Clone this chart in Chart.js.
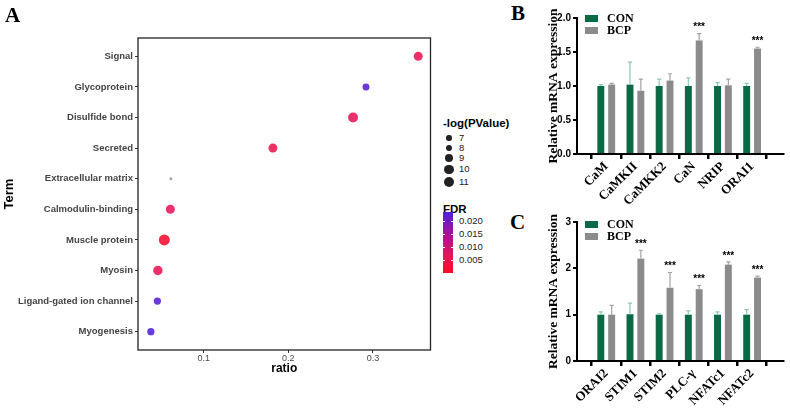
<!DOCTYPE html>
<html>
<head>
<meta charset="utf-8">
<script src="https://cdn.jsdelivr.net/npm/chart.js@4.4.1/dist/chart.umd.min.js"></script>
<style>
body{margin:0;width:790px;height:409px;background:#fff;position:relative;overflow:hidden;font-family:"Liberation Sans",Arial,sans-serif}
.box{position:absolute}
.t{position:absolute;white-space:nowrap}
.serif{font-family:"Liberation Serif","Times New Roman",serif;font-weight:bold;color:#000}
.panel{font-size:21px;line-height:21px}
</style>
</head>
<body>
<div class="box" style="left:0;top:0;width:436px;height:409px"><canvas id="chartA"></canvas></div>
<div class="box" style="left:530px;top:0;width:258px;height:205px"><canvas id="chartB"></canvas></div>
<div class="box" style="left:530px;top:205px;width:258px;height:204px"><canvas id="chartC"></canvas></div>

<div class="t serif panel" style="left:5px;top:5px">A</div>
<div class="t serif panel" style="left:511px;top:3px">B</div>
<div class="t serif panel" style="left:510px;top:212px">C</div>

<div id="legendA"></div>
<div id="legendB"></div>
<div id="legendC"></div>

<script>
// panel A - functional annotation
var terms = ['Signal', 'Glycoprotein', 'Disulfide bond', 'Secreted', 'Extracellular matrix',
             'Calmodulin-binding', 'Muscle protein', 'Myosin', 'Ligand-gated ion channel', 'Myogenesis'];
var ratios = [0.3535, 0.2918, 0.2765, 0.1818, 0.0612, 0.0606, 0.0535, 0.0459, 0.0453, 0.0376];
var negLogP = [9.8, 8.1, 10.8, 9.8, 6.0, 9.8, 11.9, 10.2, 8.3, 8.3];
var fdr = [0.006, 0.0225, 0.0065, 0.0055, null, 0.0065, 0.0015, 0.006, 0.0225, 0.0235];
var sizeBreaks = [7, 8, 9, 10, 11];
var fdrBreaks = [0.020, 0.015, 0.010, 0.005];
var ratioTicks = [0.1, 0.2, 0.3];

// panel B
var genesB = ['CaM', 'CaMKII', 'CaMKK2', 'CaN', 'NRIP', 'ORAI1'];
var conB = [1.00, 1.02, 1.00, 1.00, 1.00, 1.00];
var conErrB = [0.02, 0.33, 0.10, 0.12, 0.05, 0.04];
var bcpB = [1.02, 0.93, 1.08, 1.67, 1.01, 1.55];
var bcpErrB = [0.02, 0.17, 0.10, 0.10, 0.09, 0.02];
var sigB = ['', '', '', '***', '', '***'];

// panel C
var genesC = ['ORAI2', 'STIM1', 'STIM2', 'PLC-\u03b3', 'NFATc1', 'NFATc2'];
var conC = [1.00, 1.01, 1.00, 1.00, 1.00, 1.00];
var conErrC = [0.06, 0.24, 0.02, 0.08, 0.06, 0.11];
var bcpC = [1.00, 2.21, 1.58, 1.55, 2.08, 1.80];
var bcpErrC = [0.20, 0.18, 0.33, 0.08, 0.06, 0.03];
var sigC = ['', '***', '***', '***', '***', '***'];

var groupNames = ['CON', 'BCP'];
var groupColors = ['#0b6a46', '#8b8b8b'];
var errColors = ['#8cc9b2', '#a3a3a3'];

Chart.defaults.font.family = "'Liberation Sans', Arial, sans-serif";
Chart.defaults.animation = false;

var fdrMin = 0.0002, fdrMax = 0.0235;
var stops = [[0, 250, 12, 35], [0.3, 228, 22, 92], [0.6, 178, 16, 150], [1, 78, 32, 216]];

function fdrColor(v, alpha) {
    if (v === null) return 'rgba(150,150,150,' + alpha + ')';
    var t = (v - fdrMin) / (fdrMax - fdrMin);
    t = Math.max(0, Math.min(1, t));
    for (var i = 1; i < stops.length; i++) {
        if (t <= stops[i][0]) {
            var a = stops[i - 1], b = stops[i];
            var f = (t - a[0]) / (b[0] - a[0]);
            var c = [1, 2, 3].map(function (k) { return Math.round(a[k] + (b[k] - a[k]) * f); });
            return 'rgba(' + c.join(',') + ',' + alpha + ')';
        }
    }
}

function radius(v) {
    return Math.sqrt(Math.max(0.5, 2.25 + (v - 6) * 4.75));
}

var frame = {
    id: 'frame',
    afterDraw: function (chart) {
        var a = chart.chartArea, ctx = chart.ctx;
        ctx.save();
        ctx.strokeStyle = '#222';
        ctx.lineWidth = 1.3;
        ctx.strokeRect(a.left, a.top, a.right - a.left, a.bottom - a.top);
        ctx.restore();
    }
};

var bubbleData = terms.map(function (t, i) {
    return {x: ratios[i], y: i, r: radius(negLogP[i])};
});

new Chart(document.getElementById('chartA'), {
    type: 'bubble',
    data: {
        datasets: [{
            data: bubbleData,
            backgroundColor: fdr.map(function (v) { return fdrColor(v, 0.88); }),
            borderWidth: 0
        }]
    },
    options: {
        responsive: true,
        maintainAspectRatio: false,
        layout: {padding: {top: 38, right: 4, bottom: 29, left: 0}},
        plugins: {legend: {display: false}, tooltip: {enabled: false}},
        scales: {
            x: {
                type: 'linear', min: 0.0224, max: 0.368,
                afterBuildTicks: function (s) { s.ticks = ratioTicks.map(function (v) { return {value: v}; }); },
                afterFit: function (s) { s.height = 30; },
                border: {display: false},
                grid: {drawOnChartArea: false, tickLength: 3, color: '#333'},
                ticks: {color: '#4d4d4d', font: {size: 9}, padding: 0},
                title: {display: true, text: 'ratio', color: '#000', font: {size: 12, weight: 'bold'}, padding: {top: 0, bottom: 4}}
            },
            y: {
                type: 'linear', min: -0.6, max: 9.6, reverse: true,
                afterBuildTicks: function (s) { s.ticks = terms.map(function (t, i) { return {value: i}; }); },
                afterFit: function (s) { s.width = 138; },
                border: {display: false},
                grid: {drawOnChartArea: false, tickLength: 3, color: '#333'},
                ticks: {color: '#444', font: {size: 9.5, weight: 'bold'}, padding: 2,
                        callback: function (v) { return terms[v]; }},
                title: {display: true, text: 'Term', color: '#000', font: {size: 13, weight: 'bold'}, padding: {top: 2, bottom: 0}}
            }
        }
    },
    plugins: [frame]
});

// legend of panel A
var legA = document.getElementById('legendA');
var html = '<div class="t" style="left:443px;top:116px;font-size:11.5px;font-weight:bold;line-height:14px">-log(PValue)</div>';
var yPos = 133;
sizeBreaks.forEach(function (v) {
    var r = radius(v);
    var h = Math.max(10, 2 * r + 2.5);
    var cy = yPos + h / 2;
    html += '<div class="t" style="left:' + (449 - r) + 'px;top:' + (cy - r) + 'px;width:' + (2 * r) + 'px;height:' + (2 * r) + 'px;border-radius:50%;background:#222"></div>';
    html += '<div class="t" style="left:459px;top:' + (cy - 6) + 'px;font-size:9.5px;line-height:12px;color:#222">' + v + '</div>';
    yPos += h;
});
html += '<div class="t" style="left:443px;top:202px;font-size:11.5px;font-weight:bold;line-height:14px">FDR</div>';
var barTop = 212, barH = 61;
var grad = stops.slice().reverse().map(function (s) {
    return 'rgb(' + s[1] + ',' + s[2] + ',' + s[3] + ') ' + Math.round((1 - s[0]) * 100) + '%';
}).join(',');
html += '<div class="t" style="left:443px;top:' + barTop + 'px;width:10px;height:' + barH + 'px;background:linear-gradient(to bottom,' + grad + ')"></div>';
fdrBreaks.forEach(function (v) {
    var y = barTop + (fdrMax - v) / (fdrMax - fdrMin) * barH;
    html += '<div class="t" style="left:443px;top:' + (y - 0.5) + 'px;width:2px;height:1px;background:#fff"></div>';
    html += '<div class="t" style="left:451px;top:' + (y - 0.5) + 'px;width:2px;height:1px;background:#fff"></div>';
    html += '<div class="t" style="left:459px;top:' + (y - 6) + 'px;font-size:9.5px;line-height:12px;color:#222">' + v.toFixed(3) + '</div>';
});
legA.innerHTML = html;

// error bars and stars for B and C
var errorBars = {
    id: 'errorBars',
    afterDatasetsDraw: function (chart) {
        var ctx = chart.ctx;
        var yScale = chart.scales.y;
        chart.data.datasets.forEach(function (ds, di) {
            var meta = chart.getDatasetMeta(di);
            meta.data.forEach(function (bar, i) {
                var top = yScale.getPixelForValue(ds.data[i].y + ds.errors[i]);
                var half = bar.width * 0.3;
                ctx.save();
                ctx.strokeStyle = ds.errorColor;
                ctx.lineWidth = 1.2;
                ctx.beginPath();
                ctx.moveTo(bar.x, bar.y);
                ctx.lineTo(bar.x, top);
                ctx.moveTo(bar.x - half, top);
                ctx.lineTo(bar.x + half, top);
                ctx.stroke();
                if (ds.stars && ds.stars[i]) {
                    ctx.fillStyle = '#000';
                    ctx.font = 'bold 10px "Liberation Sans"';
                    ctx.textAlign = 'center';
                    ctx.textBaseline = 'bottom';
                    ctx.fillText(ds.stars[i], bar.x, top - 1);
                }
                ctx.restore();
            });
        });
    }
};

function toPoints(values) {
    return values.map(function (v, i) { return {x: i, y: v}; });
}

function barChart(id, genes, con, conErr, bcp, bcpErr, sig, yMax, yStep, decimals, padTop, xHeight) {
    new Chart(document.getElementById(id), {
        type: 'bar',
        data: {
            datasets: [
                {label: groupNames[0], data: toPoints(con), errors: conErr, errorColor: errColors[0],
                 backgroundColor: groupColors[0], borderWidth: 0},
                {label: groupNames[1], data: toPoints(bcp), errors: bcpErr, errorColor: errColors[1], stars: sig,
                 backgroundColor: groupColors[1], borderWidth: 0}
            ]
        },
        options: {
            responsive: true,
            maintainAspectRatio: false,
            categoryPercentage: 0.743,
            barPercentage: 0.64,
            layout: {padding: {top: padTop, right: 5, bottom: 0, left: 0}},
            plugins: {legend: {display: false}, tooltip: {enabled: false}},
            scales: {
                x: {
                    type: 'linear', min: -0.414, max: 5.471,
                    afterBuildTicks: function (s) { s.ticks = genes.map(function (g, i) { return {value: i}; }); },
                    afterFit: function (s) { s.height = xHeight; },
                    border: {display: true, color: '#000', width: 2},
                    grid: {drawOnChartArea: false, tickLength: 5, lineWidth: 2.5, color: '#000'},
                    ticks: {color: '#000', autoSkip: false, minRotation: 45, maxRotation: 45, padding: 0,
                            font: {family: "'Liberation Serif', 'Times New Roman', serif", size: 13, weight: 'bold'},
                            callback: function (v) { return genes[v]; }}
                },
                y: {
                    min: 0, max: yMax,
                    ticks: {stepSize: yStep, color: '#000', padding: 2, font: {size: 10, weight: 'bold'},
                            callback: function (v) { return v.toFixed(decimals); }},
                    afterFit: function (s) { s.width = 47; },
                    border: {display: true, color: '#000', width: 2},
                    grid: {drawOnChartArea: false, tickLength: 4, lineWidth: 2, color: '#000'},
                    title: {display: true, text: 'Relative mRNA expression', color: '#000', padding: {top: 15, bottom: 0},
                            font: {family: "'Liberation Serif', 'Times New Roman', serif", size: 13.5, weight: 'bold'}}
                }
            }
        },
        plugins: [errorBars]
    });
}

barChart('chartB', genesB, conB, conErrB, bcpB, bcpErrB, sigB, 2.0, 0.5, 1, 18, 51);
barChart('chartC', genesC, conC, conErrC, bcpC, bcpErrC, sigC, 3, 1, 0, 17, 48);

function barLegend(id, top) {
    var h = '';
    groupNames.forEach(function (g, i) {
        var y = top + i * 12;
        h += '<div class="t" style="left:585px;top:' + (y - 3.5) + 'px;width:13px;height:7px;background:' + groupColors[i] + '"></div>';
        h += '<div class="t serif" style="left:607px;top:' + (y - 7) + 'px;font-size:12px;line-height:14px">' + g + '</div>';
    });
    document.getElementById(id).innerHTML = h;
}
barLegend('legendB', 18);
barLegend('legendC', 224);
</script>
</body>
</html>
